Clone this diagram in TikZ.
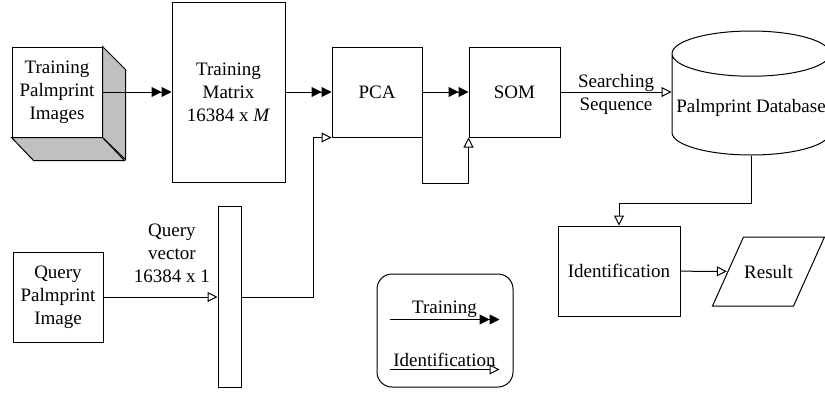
\documentclass[tikz,border=0pt]{standalone}
\usepackage{fontspec}
\setmainfont{Liberation Serif}
\usetikzlibrary{arrows.meta,positioning,shapes.geometric}
\definecolor{sidegray}{HTML}{C0C0C0}
\tikzset{
  box/.style={draw,line width=1pt,align=center,inner sep=2pt,
    minimum width=90pt,minimum height=90pt},
  database/.style={cylinder,shape border rotate=90,draw,line width=1pt,
    aspect=0.29,minimum width=158pt,minimum height=124pt,align=center},
  slanted/.style={minimum width=83pt,minimum height=69pt,inner sep=0pt},
  legendbox/.style={draw,line width=1pt,rounded corners=15pt,
    minimum width=136pt,minimum height=113pt},
  trainarrow/.style={line width=1pt,
    -{Triangle[length=10pt,width=10pt]Triangle[length=10pt,width=10pt]}},
  identarrow/.style={line width=1pt,
    -{Triangle[open,length=10pt,width=10pt,fill=white]}},
  side/.style={draw,line width=1pt,fill=sidegray}
}
\begin{document}
\begin{tikzpicture}[font=\fontsize{19}{23}\selectfont]
  \useasboundingbox (0,0) rectangle (825pt,-394pt);
  % training branch
  \node[box,minimum width=113pt,minimum height=180pt] (tmatrix) at (228.5pt,-92pt)
    {Training\\Matrix\\16384 x \textit{M}};
  \node[box,left=69pt of tmatrix] (images) {Training\\Palmprint\\Images};
  \node[box,right=46pt of tmatrix] (pca) {PCA};
  \node[box,right=46pt of pca,minimum width=91pt] (som) {SOM};
  \node[database,anchor=shape center] (db) at (751pt,-93pt) {Palmprint Database};
  % cube sides behind the image stack
  \filldraw[side] (images.north east) -- ++(23pt,-23pt) -- ++(0,-90pt)
    -- (images.south east) -- cycle;
  \filldraw[side] (images.south west) -- ++(22pt,-23pt) -- ++(91pt,0)
    -- (images.south east) -- cycle;
  % identification branch
  \node[box] (qimage) at (58pt,-297pt) {Query\\Palmprint\\Image};
  \node[draw,line width=1pt,minimum width=23pt,minimum height=181pt,
    inner sep=0pt,right=114pt of qimage] (qbar) {};
  \node[box,minimum width=122pt] (ident) at (619pt,-271pt) {Identification};
  \node[slanted] (res) at (768.5pt,-271.5pt) {Result};
  \draw[line width=1pt] ([shift={(-56pt,-34.5pt)}]res.center) -- ++(81pt,0)
    -- ++(31pt,69pt) -- ++(-81pt,0) -- cycle;
  % legend
  \node[legendbox] (legend) at (445pt,-330.5pt) {};
  \coordinate (ta) at ([xshift=13pt,yshift=-46pt]legend.north west);
  \coordinate (tb) at ([xshift=-14pt,yshift=-46pt]legend.north east);
  \coordinate (ia) at ([xshift=13pt,yshift=-96pt]legend.north west);
  \coordinate (ib) at ([xshift=-14pt,yshift=-96pt]legend.north east);
  \draw[trainarrow] (ta) -- node[above=1pt,inner sep=0pt]{Training} (tb);
  \draw[identarrow] (ia) -- node[above=2pt,inner sep=0pt]{Identification} (ib);
  % connectors
  \draw[trainarrow] (images) -- (tmatrix);
  \draw[trainarrow] (tmatrix) -- (pca);
  \draw[trainarrow] (pca) -- (som);
  \draw[identarrow] (pca.south east) -- ++(0,-46pt) -| (som.south west);
  \draw[identarrow] (som.east) -- node[align=center,yshift=-2pt]{Searching\\Sequence}
    (db.west |- som.east);
  \draw[identarrow] (qimage) -- node[pos=0.6,above=10pt,align=center]
    {Query\\vector\\16384 x 1} (qbar);
  \draw[identarrow] (qbar.east) -| ([xshift=-18pt]pca.south west) -- (pca.south west);
  \draw[identarrow] (db.south) -- ++(0,-48pt) -| (ident.north);
  \draw[identarrow] (ident) -- (res);
\end{tikzpicture}
\end{document}
